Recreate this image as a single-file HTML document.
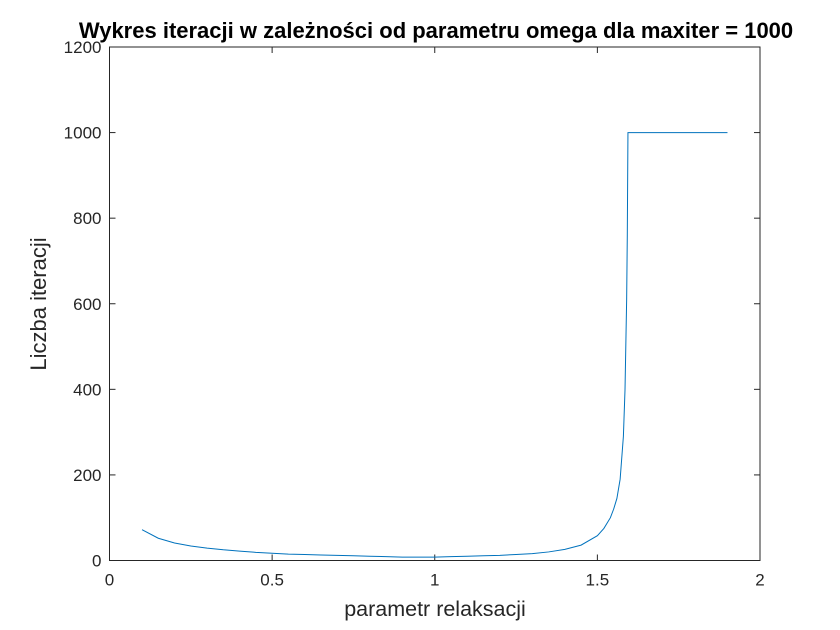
<!DOCTYPE html>
<html><head><meta charset="utf-8"><style>
body{margin:0;background:#fff;}
svg{display:block;font-family:"Liberation Sans",Arial,sans-serif;}
</style></head><body>
<svg id="chart" width="840" height="630"></svg>
<script>
const omega=[0.1,0.15,0.2,0.25,0.3,0.35,0.4,0.45,0.5,0.55,0.6,0.65,0.7,0.75,0.8,0.85,0.9,0.95,1.0,1.05,1.1,1.15,1.2,1.25,1.3,1.35,1.4,1.45,1.5,1.52,1.54,1.55,1.56,1.57,1.58,1.585,1.59,1.592,1.594,1.9];
const iterations=[72,52,41,34,29,25,22,19,17,15,14,13,12,11,10,9,8,8,8,9,10,11,12,14,16,20,26,36,58,75,100,120,145,190,290,400,610,760,1000,1000];
const xTicks=[0,0.5,1,1.5,2];
const xTickLabels=["0","0.5","1","1.5","2"];
const yTicks=[0,200,400,600,800,1000,1200];
const yTickLabels=["0","200","400","600","800","1000","1200"];
const L=109.5,R=760,T=47,B=560.5;
const sx=v=>L+(v-0)/(2-0)*(R-L);
const sy=v=>B-(v-0)/(1200-0)*(B-T);
const NS="http://www.w3.org/2000/svg";
const svg=document.getElementById('chart');
function mk(tag,attrs,text){const e=document.createElementNS(NS,tag);for(const k in attrs)e.setAttribute(k,attrs[k]);if(text!==undefined)e.textContent=text;svg.appendChild(e);return e;}
let box=mk('rect',{x:L,y:T,width:R-L,height:B-T,fill:'#fff',stroke:'#262626','stroke-width':1});


xTicks.forEach((t,i)=>{
 let l=mk('line',{x1:sx(t),x2:sx(t),y1:B,y2:B-6,stroke:'#262626'});
 
 
 let l2=mk('line',{x1:sx(t),x2:sx(t),y1:T,y2:T+6,stroke:'#262626'});
 
 
 let tx=mk('text',{x:sx(t),y:B+25,'text-anchor':'middle','font-size':17,fill:'#262626'},xTickLabels[i]);
 
 
});
yTicks.forEach((t,i)=>{
 let l=mk('line',{x1:L,x2:L+6,y1:sy(t),y2:sy(t),stroke:'#262626'});
 
 
 let l2=mk('line',{x1:R,x2:R-6,y1:sy(t),y2:sy(t),stroke:'#262626'});
 
 
 let tx=mk('text',{x:L-8,y:sy(t)+6,'text-anchor':'end','font-size':17,fill:'#262626'},yTickLabels[i]);
 
 
});
let d=omega.map((w,i)=>(i?'L':'M')+sx(w).toFixed(2)+' '+sy(iterations[i]).toFixed(2)).join(' ');
let p=mk('path',{d:d,fill:'none',stroke:'#0072bd','stroke-width':1});


let ti=mk('text',{x:436,y:38,'text-anchor':'middle','font-size':22,'font-weight':'bold',fill:'#000'},'Wykres iteracji w zależności od parametru omega dla maxiter = 1000');


let xl=mk('text',{x:435,y:616,'text-anchor':'middle','font-size':21.5,fill:'#262626'},'parametr relaksacji');


let yl=mk('text',{x:0,y:0,'text-anchor':'middle','font-size':22,fill:'#262626',transform:'translate(46,304) rotate(-90)'},'Liczba iteracji');


</script>
</body></html>
